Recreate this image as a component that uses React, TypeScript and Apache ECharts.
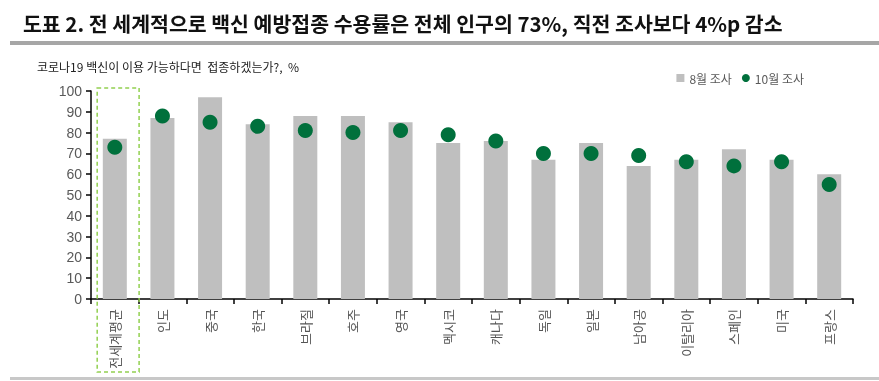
import React, { useEffect, useRef } from "react";
import * as echarts from "echarts";

const categories = ["전세계평균", "인도", "중국", "한국", "브라질", "호주", "영국", "멕시코", "캐나다", "독일", "일본", "남아공", "이탈리아", "스페인", "미국", "프랑스"];
const augustValues = [77, 87, 97, 84, 88, 88, 85, 75, 76, 67, 75, 64, 67, 72, 67, 60];
const octoberValues = [73, 88, 85, 83, 81, 80, 81, 79, 76, 70, 70, 69, 66, 64, 66, 55];
const yTicks = { min: 0, max: 100, interval: 10 };
const titleText = "도표 2. 전 세계적으로 백신 예방접종 수용률은 전체 인구의 73%, 직전 조사보다 4%p 감소";
const subtitleText = "코로나19 백신이 이용 가능하다면  접종하겠는가?,  %";
const seriesNames = ["8월 조사", "10월 조사"];

const FONT = "'Noto Sans CJK KR', 'Noto Sans', sans-serif";

export default function App() {
  const ref = useRef<HTMLDivElement>(null);
  useEffect(() => {
    if (!ref.current) return;
    const chart = echarts.init(ref.current, null, { renderer: "svg" });
    chart.setOption({
      animation: false,
      textStyle: { fontFamily: FONT },
      title: [
        {
          text: titleText,
          left: 18,
          top: 8,
          textStyle: { fontSize: 20.5, fontWeight: "bold", color: "#111", fontFamily: FONT },
        },
        {
          text: subtitleText,
          left: 32,
          top: 55,
          textStyle: { fontSize: 12, fontWeight: "normal", color: "#222", fontFamily: FONT },
        },
      ],
      legend: {
        right: 70,
        top: 67,
        itemWidth: 8,
        itemHeight: 8,
        itemGap: 10,
        textStyle: { fontSize: 12, color: "#595959", fontFamily: FONT },
        data: [
          { name: seriesNames[0], icon: "rect" },
          { name: seriesNames[1], icon: "circle" },
        ],
      },
      grid: { left: 91, right: 26, top: 91, bottom: 82 },
      xAxis: {
        type: "category",
        data: categories,
        axisLine: { lineStyle: { color: "#000", width: 1.5 } },
        axisTick: { show: true, length: 5, lineStyle: { color: "#000", width: 1.5 } },
        axisLabel: { rotate: 90, fontSize: 13, color: "#555", margin: 10, fontFamily: FONT },
      },
      yAxis: {
        type: "value",
        min: yTicks.min,
        max: yTicks.max,
        interval: yTicks.interval,
        splitLine: { show: false },
        axisLine: { show: true, lineStyle: { color: "#000", width: 1.5 } },
        axisTick: { show: true, length: 5, inside: false, lineStyle: { color: "#000", width: 1.5 } },
        axisLabel: { fontSize: 14, color: "#595959", margin: 9, fontFamily: "Arial, 'Liberation Sans', sans-serif" },
      },
      series: [
        {
          name: seriesNames[0],
          type: "bar",
          data: augustValues,
          barWidth: 24,
          itemStyle: { color: "#bfbfbf" },
        },
        {
          name: seriesNames[1],
          type: "scatter",
          data: octoberValues,
          symbolSize: 15,
          itemStyle: { color: "#00703c", opacity: 1 },
          z: 3,
        },
      ],
    });
    const left = chart.convertToPixel({ xAxisIndex: 0 }, 0) as number;
    const band = (chart.convertToPixel({ xAxisIndex: 0 }, 1) as number) - left;
    const top100 = chart.convertToPixel({ yAxisIndex: 0 }, 100) as number;
    chart.setOption({
      graphic: [
        { type: "rect", shape: { x: 10, y: 41, width: 869, height: 4 }, style: { fill: "#a6a6a6" } },
        { type: "rect", shape: { x: 10, y: 377, width: 869, height: 3 }, style: { fill: "#c8c8c8" } },
        {
          type: "rect",
          shape: { x: left - band * 0.37, y: top100 - 3, width: band * 0.88, height: 372 - (top100 - 3) },
          style: { fill: "none", stroke: "#92d050", lineWidth: 1.5, lineDash: [4, 3] },
          z: 10,
        },
      ],
    });
    return () => chart.dispose();
  }, []);
  return <div ref={ref} style={{ position: "fixed", left: 0, top: 0, width: 879, height: 381 }} />;
}
